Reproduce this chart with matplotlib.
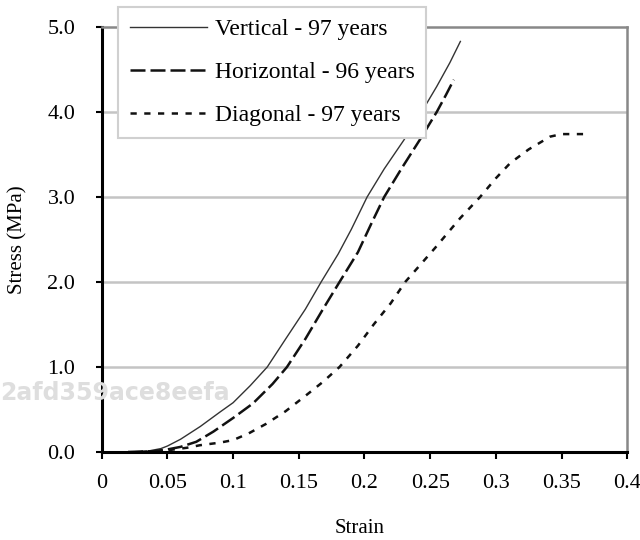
import matplotlib.pyplot as plt

# stress-strain curves
vert_strain = [0.02, 0.035, 0.045, 0.05, 0.06, 0.075, 0.09, 0.1, 0.113, 0.126, 0.14, 0.155,
               0.167, 0.18, 0.19, 0.202, 0.215, 0.23, 0.2435, 0.255, 0.265, 0.273]
vert_stress = [0.0, 0.01, 0.04, 0.07, 0.15, 0.30, 0.47, 0.58, 0.78, 1.0, 1.33, 1.68,
               2.0, 2.33, 2.62, 3.0, 3.33, 3.67, 4.0, 4.3, 4.58, 4.83]

horiz_strain = [0.02, 0.04, 0.05, 0.06, 0.072, 0.085, 0.1, 0.115, 0.13, 0.141, 0.155,
                0.168, 0.181, 0.195, 0.205, 0.215, 0.228, 0.242, 0.255, 0.262, 0.268]
horiz_stress = [0.0, 0.01, 0.03, 0.06, 0.12, 0.24, 0.40, 0.57, 0.80, 1.0, 1.33,
                1.67, 2.0, 2.35, 2.68, 3.0, 3.33, 3.67, 4.0, 4.2, 4.38]

diag_strain = [0.03, 0.05, 0.065, 0.075, 0.09, 0.1, 0.112, 0.125, 0.14, 0.155, 0.168,
               0.181, 0.195, 0.207, 0.22, 0.231, 0.2537, 0.2728, 0.288, 0.30, 0.311,
               0.325, 0.3413, 0.35, 0.3665]
diag_stress = [0.0, 0.02, 0.05, 0.08, 0.11, 0.14, 0.22, 0.33, 0.48, 0.66, 0.82,
               1.0, 1.25, 1.5, 1.75, 2.0, 2.40, 2.75, 3.0, 3.22, 3.40,
               3.56, 3.71, 3.74, 3.74]

labels = ['Vertical - 97 years', 'Horizontal - 96 years', 'Diagonal - 97 years']
x_ticks = [0, 0.05, 0.1, 0.15, 0.2, 0.25, 0.3, 0.35, 0.4]
x_tick_labels = ['0', '0.05', '0.1', '0.15', '0.2', '0.25', '0.3', '0.35', '0.4']
y_ticks = [0, 1, 2, 3, 4, 5]
y_tick_labels = ['0.0', '1.0', '2.0', '3.0', '4.0', '5.0']

plt.rcParams['font.family'] = ['Liberation Serif', 'DejaVu Serif']

fig = plt.figure(figsize=(6.4, 5.4), dpi=100)
ax = fig.add_axes([0.159, 0.163, 0.821, 0.787])

for y in [1, 2, 3, 4]:
    ax.axhline(y, color='#c4c4c4', lw=1.8, zorder=0)

ax.plot(vert_strain, vert_stress, color='#333333', lw=1.0, label=labels[0])
ax.plot(horiz_strain, horiz_stress, color='#111111', lw=1.8, dashes=(6, 2), label=labels[1])
ax.plot(diag_strain, diag_stress, color='#111111', lw=1.8, dashes=(2.5, 3), label=labels[2])

ax.set_xlim(0, 0.4)
ax.set_ylim(0, 5)
ax.set_xticks(x_ticks)
ax.set_xticklabels(x_tick_labels)
ax.set_yticks(y_ticks)
ax.set_yticklabels(y_tick_labels)
ax.tick_params(labelsize=16, direction='out', width=1.5, colors='black')
ax.tick_params(axis='x', length=5, pad=11)
ax.tick_params(axis='y', length=4, pad=15)

for side in ['left', 'bottom']:
    ax.spines[side].set_linewidth(2.2)
    ax.spines[side].set_color('black')
for side in ['top', 'right']:
    ax.spines[side].set_linewidth(1.8)
    ax.spines[side].set_color('#888888')

ax.set_xlabel('Strain', fontsize=15, va='center')
ax.xaxis.set_label_coords(0.49, -0.18)
ax.set_ylabel('Stress (MPa)', fontsize=15, va='center')
ax.yaxis.set_label_coords(-0.16, 0.5)

leg = ax.legend(loc='upper left', bbox_to_anchor=(0.184, 0.987),
                bbox_transform=fig.transFigure, fontsize=17, frameon=True,
                fancybox=False, edgecolor='#d0d0d0', framealpha=1,
                handlelength=3.3, handletextpad=0.3, labelspacing=0.9,
                borderpad=0.5, borderaxespad=0)
leg.get_frame().set_linewidth(1.5)
leg.set_zorder(5)

# faint watermark in the source image
fig.text(0.0, 0.272, '2afd359ace8eefa', fontsize=17, color='#dedede',
         fontweight='bold', family='DejaVu Sans', va='center', zorder=10)

fig.savefig('out.png', dpi=100)
